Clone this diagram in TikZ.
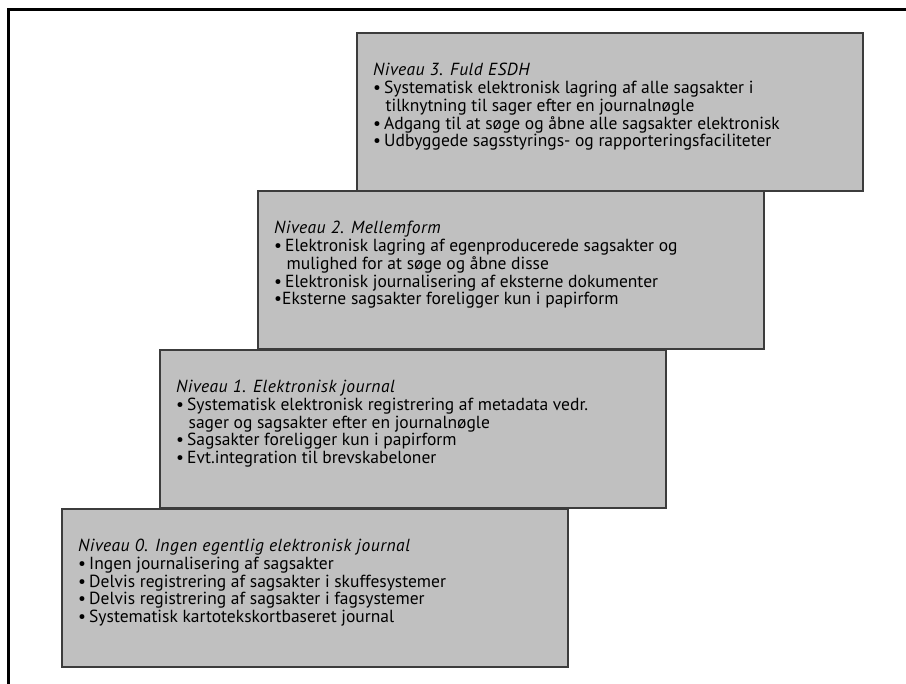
\documentclass[tikz,border=0pt]{standalone}
\usepackage{fontspec}
\setmainfont{PT Sans}[ItalicFeatures={LetterSpace=3}]
\usetikzlibrary{calc}
\definecolor{boxgray}{RGB}{192,192,192}
\definecolor{edgegray}{RGB}{60,60,60}
\newcommand{\bul}{\makebox[11pt][l]{\hspace{0pt}•}}
\newcommand{\cont}{\hspace{12.5pt}}
\tikzset{
  lvl/.style={draw=edgegray, line width=1.2pt, fill=boxgray, minimum width=506pt,
    minimum height=158pt, anchor=north west, inner sep=0pt, outer sep=0pt},
  lvltext/.style={anchor=base west, inner sep=0pt, font=\fontsize{17.5}{17.4}\selectfont},
  frame/.style={line width=3pt}
}
\begin{document}
\begin{tikzpicture}[x=1pt,y=-1pt]
\useasboundingbox (0,0) rectangle (906,684);
\coordinate (fbl) at (8,684);
\coordinate (ftl) at (8,10);
\coordinate (ftr) at (906,10);
\draw[frame] (fbl) -- (ftl) -- (ftr);

\node[lvl] (b3) at (357,33) {};
\node[lvl] (b2) at (258,191) {};
\node[lvl] (b1) at (160,350) {};
\node[lvl] (b0) at (62,509) {};

\node[lvltext] (t3) at ($(b3.north west)+(16,43)$) {\begin{tabular}[t]{@{}l@{}}
\textit{Niveau 3. Fuld ESDH}\\
\bul Systematisk elektronisk lagring af alle sagsakter i\\
\cont tilknytning til sager efter en journalnøgle\\
\bul Adgang til at søge og åbne alle sagsakter elektronisk\\
\bul Udbyggede sagsstyrings- og rapporteringsfaciliteter
\end{tabular}};

\node[lvltext] (t2) at ($(b2.north west)+(16,43)$) {\begin{tabular}[t]{@{}l@{}}
\textit{Niveau 2. Mellemform}\\
\bul Elektronisk lagring af egenproducerede sagsakter og\\
\cont mulighed for at søge og åbne disse\\
\bul Elektronisk journalisering af eksterne dokumenter\\
\makebox[8pt][l]{\hspace{0pt}•}Eksterne sagsakter foreligger kun i papirform
\end{tabular}};

\node[lvltext] (t1) at ($(b1.north west)+(16,43)$) {\begin{tabular}[t]{@{}l@{}}
\textit{Niveau 1. Elektronisk journal}\\
\bul Systematisk elektronisk registrering af metadata vedr.\\
\cont sager og sagsakter efter en journalnøgle\\
\bul Sagsakter foreligger kun i papirform\\
\bul Evt.integration til brevskabeloner
\end{tabular}};

\node[lvltext] (t0) at ($(b0.north west)+(16,43)$) {\begin{tabular}[t]{@{}l@{}}
\textit{Niveau 0. Ingen egentlig elektronisk journal}\\
\bul Ingen journalisering af sagsakter\\
\bul Delvis registrering af sagsakter i skuffesystemer\\
\bul Delvis registrering af sagsakter i fagsystemer\\
\bul Systematisk kartotekskortbaseret journal
\end{tabular}};
\end{tikzpicture}
\end{document}
